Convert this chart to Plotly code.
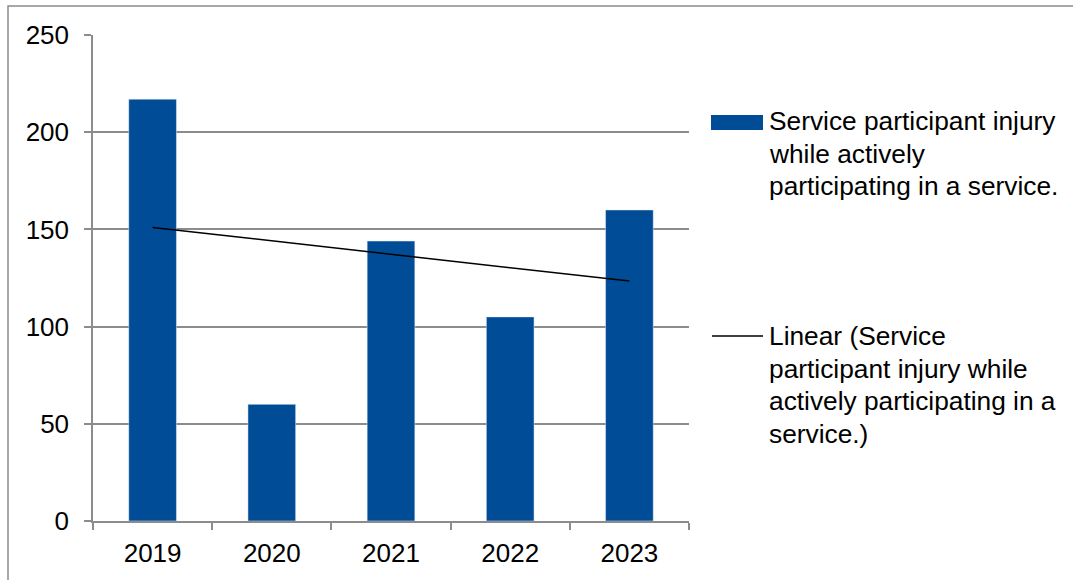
import numpy as np
import plotly.graph_objects as go

# Yearly counts of service participant injuries
years = ["2019", "2020", "2021", "2022", "2023"]
injuries = [217, 60, 144, 105, 160]
y_ticks = [0, 50, 100, 150, 200, 250]

series_name = "Service participant injury while actively participating in a service."
legend_bar_lines = ["Service participant injury", "while actively", "participating in a service."]
legend_trend_lines = ["Linear (Service", "participant injury while", "actively participating in a", "service.)"]

BAR_COLOR = "#004C97"
GRID = "#8c8c8c"
FONT = "Liberation Sans, Arial, sans-serif"

# Least-squares linear trend over the year index
idx = np.arange(len(years))
slope, intercept = np.polyfit(idx, injuries, 1)
trend = slope * idx + intercept

W, H = 1073, 580
L, R, T, B = 93, 689, 35, 521  # plot area in pixels


def px(x):
    return (x - L) / (R - L)


def py(y):
    return (B - y) / (B - T)


fig = go.Figure()
fig.add_trace(go.Bar(x=years, y=injuries, marker_color=BAR_COLOR, name=series_name,
                     showlegend=False))
fig.add_trace(go.Scatter(x=years, y=trend, mode="lines", line=dict(color="black", width=1.5),
                         name="Linear (" + series_name + ")", showlegend=False))

shapes = [
    # outer chart frame
    dict(type="rect", xref="paper", yref="paper", x0=px(8), y0=py(6), x1=px(1100), y1=py(620),
         line=dict(color=GRID, width=1.5), fillcolor="rgba(0,0,0,0)", layer="below"),
    # legend keys
    dict(type="rect", xref="paper", yref="paper", x0=px(711), x1=px(763), y0=py(115), y1=py(130),
         fillcolor=BAR_COLOR, line=dict(width=0)),
    dict(type="line", xref="paper", yref="paper", x0=px(712), x1=px(763), y0=py(336), y1=py(336),
         line=dict(color="black", width=1.5)),
]

annotations = []
for lines, y_start in ((legend_bar_lines, 121), (legend_trend_lines, 336)):
    for i, txt in enumerate(lines):
        annotations.append(dict(text=txt, xref="paper", yref="paper", x=px(767), y=py(y_start + 32.6 * i),
                                xanchor="left", yanchor="middle", showarrow=False,
                                font=dict(family=FONT, size=26.3, color="black")))

fig.update_layout(
    width=W, height=H,
    margin=dict(l=L, r=W - R, t=T, b=H - B, pad=0),
    paper_bgcolor="white", plot_bgcolor="white",
    bargap=0.6,
    font=dict(family=FONT, size=26, color="black"),
    shapes=shapes, annotations=annotations,
    showlegend=False,
)
fig.update_xaxes(type="category", tickson="boundaries", ticks="outside", ticklen=7,
                 tickcolor=GRID, tickwidth=1.5, showline=True, linecolor=GRID, linewidth=1.5,
                 showgrid=False, ticklabelstandoff=8)
fig.update_yaxes(range=[0, 250], tickvals=y_ticks, ticks="outside", ticklen=7,
                 tickcolor=GRID, tickwidth=1.5, showline=True, linecolor=GRID, linewidth=1.5,
                 showgrid=True, gridcolor=GRID, gridwidth=1.5, zeroline=False,
                 ticklabelstandoff=10)

fig.write_html("out.html")
